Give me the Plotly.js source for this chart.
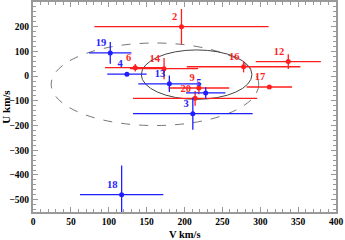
<!DOCTYPE html>
<html>
<head>
<meta charset="utf-8">
<script src="https://cdn.plot.ly/plotly-3.0.1.min.js"></script>
<style>html,body{margin:0;padding:0;background:#fff;}#plot{width:345px;height:240px;}</style>
</head>
<body>
<div id="plot"></div>
<script>
// Red stars
var redIds = ["2", "6", "14", "9", "20", "16", "12", "17"];
var redV   = [196, 135, 173, 219, 214, 278, 337, 312];
var redU   = [200, 34, 30, -48, -90, 38, 59, -44];
var redEV  = [115, 40, 45, 40, 82, 75, 43, 30];
var redEU  = [72, 15, 43, 25, 30, 23, 30, 5];

// Blue stars
var blueIds = ["19", "4", "13", "5", "3", "18"];
var blueV   = [102, 124, 180, 228, 211, 117];
var blueU   = [94, 8, -31, -68, -152, -480];
var blueEV  = [28, 26, 41, 26, 79, 55];
var blueEU  = [44, 5, 33, 23, 65, 118];

// Ellipses: [centerV, centerU, semiV, semiU]
var dashedEllipse = [161, -33, 137, 167];
var solidEllipse  = [216, 6, 73, 100];

var red = 'rgb(255,30,30)', blue = 'rgb(30,30,255)';
var font = 'Liberation Serif, Times New Roman, serif';

function series(ids, V, U, EV, EU, col) {
  return {
    x: V, y: U, text: ids, type: 'scatter', mode: 'markers+text',
    textposition: 'top left',
    textfont: {family: font, size: 10.5, color: col, weight: 'bold'},
    marker: {color: col, size: 5},
    error_x: {type: 'data', array: EV, visible: true, color: col, thickness: 1.3, width: 0},
    error_y: {type: 'data', array: EU, visible: true, color: col, thickness: 1.3, width: 0},
    showlegend: false, cliponaxis: true, hoverinfo: 'none'
  };
}

function ell(e, dash, col) {
  return {type: 'circle', xref: 'x', yref: 'y',
    x0: e[0] - e[2], x1: e[0] + e[2], y0: e[1] - e[3], y1: e[1] + e[3],
    line: {color: col, width: 1, dash: dash}, layer: 'below'};
}

var axisCommon = {
  showgrid: false, zeroline: false, showline: true, linecolor: '#999', linewidth: 2,
  mirror: 'allticks', ticks: 'inside', ticklen: 5, tickcolor: '#999', tickwidth: 1,
  tickfont: {family: font, size: 9.5, color: '#000', weight: 'bold'}
};

var layout = {
  width: 345, height: 240,
  margin: {l: 33, r: 9, t: 2, b: 28},
  paper_bgcolor: '#fff', plot_bgcolor: '#fff',
  xaxis: Object.assign({}, axisCommon, {
    range: [0, 400], dtick: 50, tick0: 0,
    minor: {dtick: 10, ticks: 'inside', ticklen: 3, tickcolor: '#999', showgrid: false}
  }),
  yaxis: Object.assign({}, axisCommon, {
    range: [-550, 300], dtick: 100, tick0: 0,
    minor: {dtick: 20, ticks: 'inside', ticklen: 3, tickcolor: '#999', showgrid: false},
    title: {text: 'U km/s', font: {family: font, size: 11, color: '#000', weight: 'bold'}, standoff: 2}
  }),
  annotations: [{
    text: 'V km/s', xref: 'paper', yref: 'paper', x: 0.5, y: 0, yshift: -22,
    xanchor: 'center', yanchor: 'middle', showarrow: false,
    font: {family: font, size: 10.5, color: '#000', weight: 'bold'}
  }],
  shapes: [ell(dashedEllipse, 'dash', '#777'), ell(solidEllipse, 'solid', '#444')]
};

Plotly.newPlot('plot', [
  series(redIds, redV, redU, redEV, redEU, red),
  series(blueIds, blueV, blueU, blueEV, blueEU, blue)
], layout, {displayModeBar: false, staticPlot: true});
</script>
</body>
</html>
